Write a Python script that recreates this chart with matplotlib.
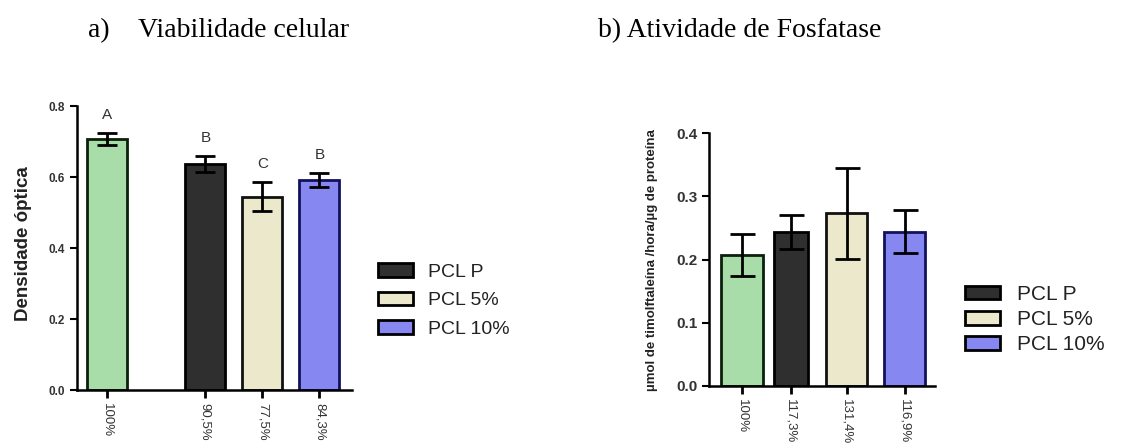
import matplotlib.pyplot as plt
from matplotlib.patches import Patch

# ---- data ----
legend_labels = ['PCL P', 'PCL 5%', 'PCL 10%']

viab_mean = [0.706, 0.637, 0.545, 0.592]
viab_err = [0.017, 0.022, 0.042, 0.019]
viab_ticks = ['100%', '90,5%', '77,5%', '84,3%']
viab_letters = ['A', 'B', 'C', 'B']

fosf_mean = [0.207, 0.244, 0.273, 0.244]
fosf_err = [0.033, 0.027, 0.072, 0.034]
fosf_ticks = ['100%', '117,3%', '131,4%', '116,9%']

# ---- style ----
face = ['#a8dca8', '#2f2f2f', '#ebe8cc', '#8787f2']
edge = ['#0b1f0b', '#000000', '#111111', '#12125c']
sans = 'Liberation Sans'
serif = 'Liberation Serif'
tick_col = '#333333'

fig = plt.figure(figsize=(11.23, 4.43), dpi=100)


def style_axis(ax, ylim, yticks, ysize):
    ax.set_ylim(*ylim)
    ax.set_yticks(yticks)
    ax.set_yticklabels([f'{t:.1f}' for t in yticks], fontsize=ysize,
                       fontweight='bold', color=tick_col, family=sans)
    for s in ['top', 'right']:
        ax.spines[s].set_visible(False)
    ax.spines['left'].set_linewidth(1.8)
    ax.spines['bottom'].set_linewidth(1.8)
    ax.tick_params(axis='y', direction='out', length=5, width=1.5)
    ax.tick_params(axis='x', direction='out', length=6, width=2)


# ---- a) Viabilidade celular ----
ax1 = fig.add_axes([0.0686, 0.1196, 0.2448, 0.6411])
pos1 = [0, 1.72, 2.72, 3.72]
ax1.bar(pos1, viab_mean, width=0.70, color=face, edgecolor=edge, linewidth=2, zorder=2)
ax1.errorbar(pos1, viab_mean, yerr=viab_err, fmt='none', ecolor='black',
             elinewidth=2, capsize=7, capthick=2, zorder=3)
for x, m, e, lt in zip(pos1, viab_mean, viab_err, viab_letters):
    ax1.annotate(lt, (x, m + e), xytext=(0, 13), textcoords='offset points',
                 ha='center', va='center', fontsize=11, color='#333333', family=sans)
ax1.set_xlim(-0.53, 4.29)
ax1.set_xticks(pos1)
ax1.set_xticklabels(viab_ticks, rotation=270, fontsize=9.5, color=tick_col, family=sans)
style_axis(ax1, (0, 0.8), [0, 0.2, 0.4, 0.6, 0.8], 8.5)
fig.text(0.0205, 0.449, 'Densidade óptica', rotation=90, ha='center', va='center',
         fontsize=13.5, fontweight='bold', color='#222222', family=sans)

# ---- b) Atividade de Fosfatase ----
ax2 = fig.add_axes([0.6313, 0.1293, 0.2013, 0.5697])
pos2 = [0, 0.9, 1.93, 3]
ax2.bar(pos2, fosf_mean, width=[0.77, 0.63, 0.76, 0.76], color=face, edgecolor=edge,
        linewidth=2, zorder=2)
ax2.errorbar(pos2, fosf_mean, yerr=fosf_err, fmt='none', ecolor='black',
             elinewidth=2, capsize=9, capthick=2, zorder=3)
ax2.set_xlim(-0.61, 3.56)
ax2.set_xticks(pos2)
ax2.set_xticklabels(fosf_ticks, rotation=270, fontsize=9.5, color=tick_col, family=sans)
style_axis(ax2, (0, 0.4), [0, 0.1, 0.2, 0.3, 0.4], 11)
fig.text(0.5806, 0.413, 'µmol de timolftaleína /hora/µg de proteína', rotation=90,
         ha='center', va='center', fontsize=9.5, fontweight='bold', color='#222222',
         family=sans)

# ---- legends ----
handles = [Patch(facecolor=face[i + 1], edgecolor='black', linewidth=2)
           for i in range(3)]
fig.legend(handles, legend_labels, loc='upper left', bbox_to_anchor=(0.337, 0.406),
           frameon=False, borderpad=0, borderaxespad=0, handlelength=1.8,
           handleheight=0.72, handletextpad=0.75, labelspacing=0.55,
           prop={'family': sans, 'size': 14}, labelcolor='#222222')
fig.legend(handles, legend_labels, loc='upper left', bbox_to_anchor=(0.859, 0.357),
           frameon=False, borderpad=0, borderaxespad=0, handlelength=1.68,
           handleheight=0.63, handletextpad=0.85, labelspacing=0.3,
           prop={'family': sans, 'size': 15}, labelcolor='#222222')

# ---- titles ----
fig.text(0.0784, 0.9165, 'a)', fontsize=20, family=serif, va='baseline')
fig.text(0.1229, 0.9165, 'Viabilidade celular', fontsize=20, family=serif, va='baseline')
fig.text(0.5325, 0.9165, 'b) Atividade de Fosfatase', fontsize=20, family=serif,
         va='baseline')

fig.savefig('out.png', dpi=100)
